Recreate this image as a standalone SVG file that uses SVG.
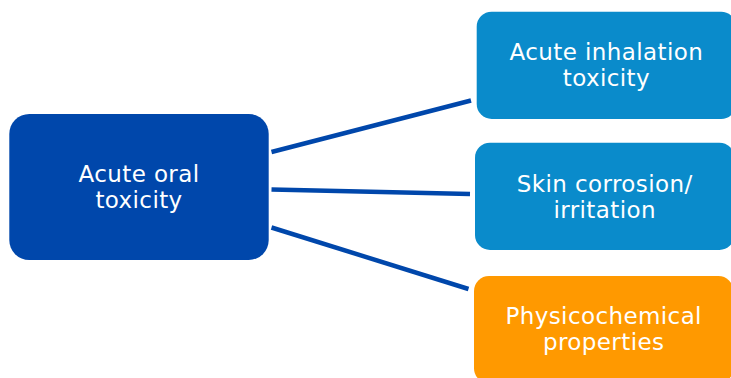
<svg xmlns="http://www.w3.org/2000/svg" width="731" height="378" viewBox="0 0 731 378">
<style>
.lbl{font-family:"DejaVu Sans",Verdana,sans-serif;font-size:23px;letter-spacing:0.4px;fill:#ffffff;text-anchor:middle}
.conn{stroke:#0047AB;stroke-width:4.5;fill:none}
</style>
<rect width="731" height="378" fill="#ffffff"/>
<g id="connectors">
<line class="conn" x1="271.5" y1="152" x2="471" y2="100.5"/>
<line class="conn" x1="271.5" y1="189.5" x2="470" y2="194"/>
<line class="conn" x1="271.5" y1="227.5" x2="468.5" y2="289"/>
</g>
<g id="acute-oral">
<rect x="9.3" y="114" width="259.4" height="146" rx="20" fill="#0047AB"/>
<text class="lbl" x="139" y="181.7">Acute oral</text>
<text class="lbl" x="139" y="207.7">toxicity</text>
</g>
<g id="acute-inhalation">
<rect x="476.7" y="11.7" width="259.4" height="107.3" rx="15" fill="#0A8BCB"/>
<text class="lbl" x="606.4" y="60.3">Acute inhalation</text>
<text class="lbl" x="606.4" y="86.3">toxicity</text>
</g>
<g id="skin-corrosion">
<rect x="475" y="142.7" width="259.4" height="107.3" rx="15" fill="#0A8BCB"/>
<text class="lbl" x="604.7" y="191.5">Skin corrosion/</text>
<text class="lbl" x="604.7" y="217.5">irritation</text>
</g>
<g id="physicochemical">
<rect x="474" y="276" width="259.4" height="107.3" rx="15" fill="#FF9900"/>
<text class="lbl" x="603.7" y="324">Physicochemical</text>
<text class="lbl" x="603.7" y="350">properties</text>
</g>
</svg>
